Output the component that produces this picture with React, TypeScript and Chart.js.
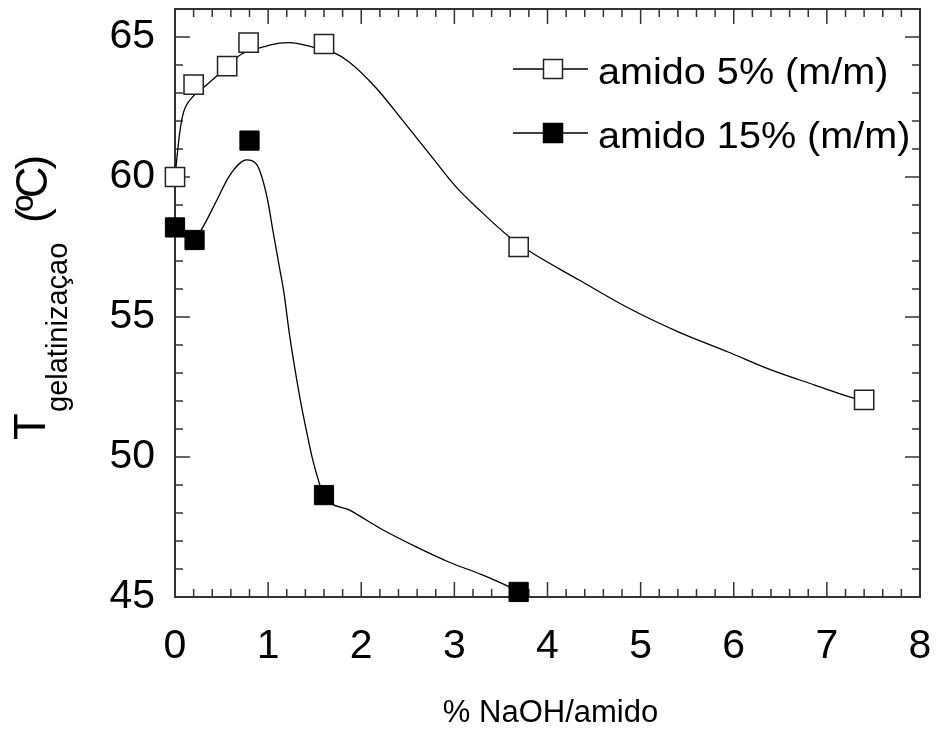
import React, { useEffect, useRef } from 'react';
import { Chart, registerables } from 'chart.js';

Chart.register(...registerables);

const FONT = '"Liberation Sans", Arial, Helvetica, sans-serif';

// ---- data ----
const seriesLabels = ['amido 5% (m/m)', 'amido 15% (m/m)'];

const naoh5 = [0, 0.2, 0.56, 0.79, 1.6, 3.69, 7.4];
const temp5 = [60.0, 63.3, 63.96, 64.8, 64.75, 57.5, 52.04];

const naoh15 = [0, 0.21, 0.8, 1.6, 3.69];
const temp15 = [58.2, 57.75, 61.3, 48.64, 45.18];

// smooth fitted curves
const curve5X = [0, 0.05, 0.09, 0.19, 0.3, 0.46, 0.56, 0.72, 0.91, 1.12, 1.23, 1.48, 1.71, 1.87, 2.16, 2.44, 2.76, 3.02, 3.27, 3.59, 3.82, 4.34, 4.87, 5.41, 5.94, 6.4, 6.87, 7.28, 7.4];
const curve5Y = [60.0, 61.57, 62.29, 62.86, 63.18, 63.64, 63.95, 64.4, 64.61, 64.78, 64.8, 64.64, 64.43, 64.11, 63.18, 62.04, 60.71, 59.64, 58.82, 57.86, 57.32, 56.32, 55.32, 54.46, 53.75, 53.11, 52.57, 52.11, 52.0];

const curve15X = [0.21, 0.3, 0.45, 0.59, 0.77, 0.88, 0.99, 1.05, 1.12, 1.17, 1.23, 1.34, 1.41, 1.48, 1.6, 1.87, 2.23, 2.59, 2.94, 3.3, 3.59, 3.69];
const curve15Y = [57.75, 58.21, 59.18, 60.07, 60.61, 60.43, 59.25, 58.11, 56.8, 55.86, 54.36, 52.14, 50.96, 49.89, 48.64, 48.11, 47.4, 46.79, 46.25, 45.79, 45.36, 45.18];

const xTicks = [0, 1, 2, 3, 4, 5, 6, 7, 8];
const yTicks = [45, 50, 55, 60, 65];
const xMinorStep = 0.2;
const yMinorStep = 1;

const xTitle = '% NaOH/amido';
const yTitleMain = 'T';
const yTitleSub = 'gelatinizaçao';
const yTitleUnit = '(ºC)';

function minorValues(min: number, max: number, step: number, majors: number[]) {
  const out: number[] = [];
  const n = Math.round((max - min) / step);
  for (let i = 0; i <= n; i++) {
    const v = Math.round((min + i * step) * 1e6) / 1e6;
    if (!majors.some((m) => Math.abs(m - v) < 1e-6)) out.push(v);
  }
  return out;
}

function zeroPad(s: any) {
  s.paddingTop = 0;
  s.paddingBottom = 0;
  s.paddingLeft = 0;
  s.paddingRight = 0;
}

const framePlugin = {
  id: 'frameTicks',
  beforeDatasetsDraw(chart: any) {
    const { ctx, chartArea: a, scales } = chart;
    const xs = scales.x;
    const ys = scales.y;
    ctx.save();
    ctx.strokeStyle = '#333';
    ctx.lineWidth = 1.5;
    const MAJ = 15;
    const MIN = 8;
    ctx.beginPath();
    const xMin = minorValues(xs.min, xs.max, xMinorStep, xTicks);
    xTicks.forEach((v) => {
      const p = xs.getPixelForValue(v);
      ctx.moveTo(p, a.bottom); ctx.lineTo(p, a.bottom - MAJ);
      ctx.moveTo(p, a.top); ctx.lineTo(p, a.top + MAJ);
    });
    xMin.forEach((v) => {
      const p = xs.getPixelForValue(v);
      ctx.moveTo(p, a.bottom); ctx.lineTo(p, a.bottom - MIN);
      ctx.moveTo(p, a.top); ctx.lineTo(p, a.top + MIN);
    });
    const yMin = minorValues(ys.min, ys.max, yMinorStep, yTicks);
    yTicks.forEach((v) => {
      const p = ys.getPixelForValue(v);
      ctx.moveTo(a.left, p); ctx.lineTo(a.left + MAJ, p);
      ctx.moveTo(a.right, p); ctx.lineTo(a.right - MAJ, p);
    });
    yMin.forEach((v) => {
      const p = ys.getPixelForValue(v);
      ctx.moveTo(a.left, p); ctx.lineTo(a.left + MIN, p);
      ctx.moveTo(a.right, p); ctx.lineTo(a.right - MIN, p);
    });
    ctx.stroke();
    ctx.lineWidth = 2;
    ctx.strokeRect(a.left, a.top, a.right - a.left, a.bottom - a.top);
    ctx.restore();
  },
  afterDraw(chart: any) {
    const { ctx, chartArea: a } = chart;
    ctx.save();
    ctx.fillStyle = '#000';
    // x title
    ctx.font = `31px ${FONT}`;
    ctx.textAlign = 'center';
    ctx.textBaseline = 'alphabetic';
    ctx.fillText(xTitle, (a.left + a.right) / 2 + 3, a.bottom + 125);

    // y title (rotated)
    ctx.textAlign = 'left';
    ctx.save();
    ctx.translate(45, 440);
    ctx.rotate(-Math.PI / 2);
    ctx.font = `44px ${FONT}`;
    ctx.fillText(yTitleMain, 0, 0);
    ctx.restore();

    ctx.save();
    ctx.translate(67, 412);
    ctx.rotate(-Math.PI / 2);
    ctx.font = `29px ${FONT}`;
    ctx.fillText(yTitleSub, 0, 0);
    ctx.restore();

    ctx.save();
    ctx.translate(47, 223);
    ctx.rotate(-Math.PI / 2);
    ctx.font = `44px ${FONT}`;
    try { (ctx as any).letterSpacing = '-3px'; } catch (e) {}
    ctx.fillText(yTitleUnit, 0, 0);
    ctx.restore();

    // legend
    const ds = chart.data.datasets.slice(0, 2);
    ds.forEach((d: any, i: number) => {
      const y = a.top + 60 + i * 64;
      const x0 = a.left + 338;
      ctx.strokeStyle = '#000';
      ctx.lineWidth = 1.3;
      ctx.beginPath();
      ctx.moveTo(x0, y);
      ctx.lineTo(x0 + 75, y);
      ctx.stroke();
      const s = 19;
      const cx = x0 + 40;
      ctx.fillStyle = d.pointBackgroundColor;
      ctx.fillRect(cx - s / 2, y - s / 2, s, s);
      ctx.strokeStyle = d.pointBorderColor;
      ctx.lineWidth = 1.5;
      ctx.strokeRect(cx - s / 2, y - s / 2, s, s);
      ctx.save();
      ctx.fillStyle = '#000';
      ctx.font = `36px ${FONT}`;
      ctx.textAlign = 'left';
      ctx.textBaseline = 'alphabetic';
      ctx.translate(x0 + 85, y + 15);
      ctx.scale(1.1, 1);
      ctx.fillText(d.label, 0, 0);
      ctx.restore();
    });
    ctx.restore();
  },
};

export default function App() {
  const ref = useRef<HTMLCanvasElement | null>(null);
  useEffect(() => {
    if (!ref.current) return;
    const chart = new Chart(ref.current, {
      type: 'scatter',
      data: {
        datasets: [
          {
            label: seriesLabels[0],
            data: naoh5.map((x, i) => ({ x, y: temp5[i] })),
            pointStyle: 'rect',
            pointRadius: 13.6,
            pointBackgroundColor: '#ffffff',
            pointBorderColor: '#222222',
            pointBorderWidth: 1.5,
            showLine: false,
            clip: false,
          } as any,
          {
            label: seriesLabels[1],
            data: naoh15.map((x, i) => ({ x, y: temp15[i] })),
            pointStyle: 'rect',
            pointRadius: 13.6,
            pointBackgroundColor: '#000000',
            pointBorderColor: '#000000',
            pointBorderWidth: 1,
            showLine: false,
            clip: false,
          } as any,
          {
            label: 'fit5',
            data: curve5X.map((x, i) => ({ x, y: curve5Y[i] })),
            showLine: true,
            pointRadius: 0,
            borderColor: '#000',
            borderWidth: 1.3,
            cubicInterpolationMode: 'monotone',
            fill: false,
            clip: false,
          } as any,
          {
            label: 'fit15',
            data: curve15X.map((x, i) => ({ x, y: curve15Y[i] })),
            showLine: true,
            pointRadius: 0,
            borderColor: '#000',
            borderWidth: 1.3,
            cubicInterpolationMode: 'monotone',
            fill: false,
            clip: false,
          } as any,
        ],
      },
      options: {
        animation: false,
        responsive: false,
        events: [],
        layout: { autoPadding: false, padding: { top: 9, right: 18, left: 0, bottom: 0 } },
        plugins: { legend: { display: false }, tooltip: { enabled: false }, title: { display: false } },
        scales: {
          x: {
            type: 'linear',
            min: 0,
            max: 8,
            grid: { display: false, drawTicks: false },
            border: { display: false },
            ticks: { font: { family: FONT, size: 41 }, color: '#000', padding: 25, maxRotation: 0 },
            afterBuildTicks: (s: any) => { s.ticks = xTicks.map((v) => ({ value: v })); },
            afterFit: (s: any) => { s.height = 132; zeroPad(s); },
          },
          y: {
            type: 'linear',
            min: 45,
            max: 66,
            grid: { display: false, drawTicks: false },
            border: { display: false },
            ticks: { font: { family: FONT, size: 41, lineHeight: 0.4 }, color: '#000', padding: 20 },
            afterBuildTicks: (s: any) => { s.ticks = yTicks.map((v) => ({ value: v })); },
            afterFit: (s: any) => { s.width = 175; zeroPad(s); },
          },
        },
      } as any,
      plugins: [framePlugin],
    });
    return () => chart.destroy();
  }, []);
  return (
    <div style={{ position: 'absolute', left: 0, top: 0, width: 938, height: 729, background: '#fff' }}>
      <canvas ref={ref} width={938} height={729} />
    </div>
  );
}
